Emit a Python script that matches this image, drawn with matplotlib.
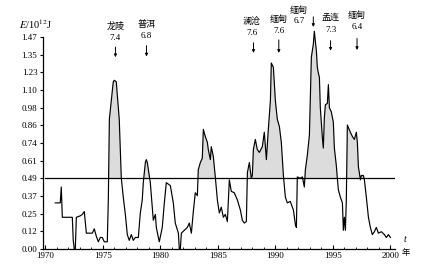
import numpy as np
import matplotlib
matplotlib.use("Agg")
import matplotlib.pyplot as plt

plt.rcParams["font.family"] = ["Liberation Serif", "DejaVu Serif"]
plt.rcParams["mathtext.fontset"] = "stix"

CJK = ["Noto Sans CJK SC", "DejaVu Sans"]

# Strain energy release curve
years = [
    1970.87, 1971.30, 1971.39, 1971.48, 1972.35, 1972.43, 1972.52, 1972.61, 1972.70, 1973.04,
    1973.22, 1973.39, 1973.57, 1973.91, 1974.09, 1974.26, 1974.43, 1974.61, 1974.78, 1974.96,
    1975.13, 1975.39, 1975.48, 1975.57, 1975.74, 1975.91, 1976.00, 1976.17, 1976.26, 1976.43,
    1976.61, 1976.78, 1976.96, 1977.13, 1977.30, 1977.48, 1977.65, 1977.83, 1978.09, 1978.26,
    1978.43, 1978.52, 1978.70, 1978.78, 1978.87, 1979.13, 1979.39, 1979.57, 1979.65, 1979.91,
    1980.17, 1980.35, 1980.52, 1980.87, 1981.13, 1981.30, 1981.57, 1981.65, 1981.74, 1981.83,
    1982.35, 1982.52, 1982.70, 1982.87, 1983.04, 1983.22, 1983.30, 1983.48, 1983.65, 1983.74,
    1983.91, 1984.09, 1984.17, 1984.35, 1984.43, 1984.61, 1984.78, 1984.96, 1985.13, 1985.30,
    1985.48, 1985.65, 1985.83, 1986.00, 1986.17, 1986.43, 1986.70, 1986.96, 1987.13, 1987.30,
    1987.48, 1987.57, 1987.74, 1987.91, 1988.00, 1988.09, 1988.26, 1988.43, 1988.61, 1988.87,
    1989.04, 1989.22, 1989.39, 1989.57, 1989.65, 1989.83, 1990.00, 1990.17, 1990.35, 1990.52,
    1990.70, 1990.87, 1991.04, 1991.30, 1991.57, 1991.74, 1991.83, 1991.91, 1992.17, 1992.35,
    1992.52, 1992.61, 1992.78, 1992.96, 1993.13, 1993.30, 1993.39, 1993.57, 1993.65, 1993.74,
    1993.83, 1993.91, 1994.09, 1994.17, 1994.26, 1994.35, 1994.52, 1994.61, 1994.70, 1994.87,
    1995.04, 1995.13, 1995.30, 1995.39, 1995.48, 1995.65, 1995.83, 1995.91, 1996.00, 1996.09,
    1996.17, 1996.26, 1996.52, 1996.70, 1996.87, 1997.04, 1997.13, 1997.22, 1997.30, 1997.39,
    1997.48, 1997.65, 1997.74, 1997.91, 1998.09, 1998.26, 1998.43, 1998.61, 1998.78, 1998.96,
    1999.22, 1999.48, 1999.65, 1999.83, 2000.00,
]
energy = [
    0.32, 0.32, 0.43, 0.22, 0.22, 0.06, 0.00, 0.00, 0.22, 0.23,
    0.24, 0.26, 0.11, 0.11, 0.11, 0.14, 0.09, 0.05, 0.08, 0.08,
    0.05, 0.05, 0.34, 0.90, 1.03, 1.16, 1.17, 1.16, 1.07, 0.90,
    0.49, 0.36, 0.24, 0.10, 0.06, 0.10, 0.06, 0.08, 0.08, 0.25,
    0.34, 0.46, 0.60, 0.62, 0.60, 0.46, 0.20, 0.24, 0.15, 0.05,
    0.15, 0.32, 0.46, 0.44, 0.32, 0.18, 0.11, 0.00, 0.00, 0.11,
    0.15, 0.18, 0.11, 0.26, 0.39, 0.37, 0.55, 0.60, 0.63, 0.83,
    0.78, 0.74, 0.69, 0.62, 0.71, 0.64, 0.50, 0.34, 0.25, 0.29,
    0.22, 0.24, 0.19, 0.48, 0.40, 0.39, 0.34, 0.27, 0.20, 0.18,
    0.19, 0.53, 0.60, 0.49, 0.51, 0.69, 0.76, 0.69, 0.67, 0.71,
    0.81, 0.62, 0.83, 1.03, 1.29, 1.26, 1.03, 0.90, 0.85, 0.74,
    0.51, 0.36, 0.32, 0.33, 0.27, 0.17, 0.15, 0.50, 0.49, 0.50,
    0.43, 0.55, 0.65, 0.79, 1.33, 1.42, 1.51, 1.37, 1.26, 1.22,
    1.19, 0.98, 0.77, 0.70, 0.91, 1.00, 1.01, 1.14, 0.98, 0.95,
    0.88, 0.70, 0.58, 0.49, 0.41, 0.36, 0.32, 0.13, 0.22, 0.13,
    0.34, 0.86, 0.81, 0.78, 0.76, 0.81, 0.74, 0.57, 0.53, 0.48,
    0.51, 0.51, 0.48, 0.36, 0.22, 0.15, 0.10, 0.12, 0.15, 0.11,
    0.12, 0.10, 0.08, 0.10, 0.08,
]
threshold = 0.49

ytick_labels = ["0.00", "0.12", "0.25", "0.37", "0.49", "0.61", "0.74",
                "0.86", "0.98", "1.10", "1.23", "1.35", "1.47"]
xtick_years = [1970, 1975, 1980, 1985, 1990, 1995, 2000]

# Earthquakes marked above the curve
quake_places = ["龙陵", "普洱", "澜沧", "缅甸", "缅甸", "孟连", "缅甸"]
quake_mags = ["7.4", "6.8", "7.6", "7.6", "6.7", "7.3", "6.4"]
quake_years = [1976.1, 1978.8, 1988.1, 1990.3, 1993.3, 1994.8, 1997.1]

# label layout: (text x offset in years, name y, magnitude y, arrow top, arrow bottom)
layout = [
    (0.0, 1.545, 1.46, 1.40, 1.33),
    (0.0, 1.560, 1.475, 1.41, 1.335),
    (-0.15, 1.570, 1.50, 1.43, 1.36),
    (0.0, 1.590, 1.515, 1.45, 1.36),
    (-1.25, 1.655, 1.578, 1.61, 1.54),
    (0.0, 1.605, 1.522, 1.445, 1.375),
    (0.0, 1.620, 1.537, 1.46, 1.38),
]

fig = plt.figure(figsize=(4.29, 2.69), dpi=100)
ax = fig.add_axes([0.1002, 0.0743, 0.8205, 0.788])

x = np.array(years)
y = np.array(energy)

ax.fill_between(x, y, threshold, where=y > threshold, interpolate=True,
                facecolor="#dcdcdc", edgecolor="none", linewidth=0, zorder=1)
ax.plot(x, y, color="black", linewidth=0.85, clip_on=False, zorder=3)
ax.plot([1970, 2000.3], [threshold, threshold], color="black", linewidth=0.9, zorder=2)

ax.set_xlim(1969.8, 2000.4)
ax.set_ylim(0, 1.47)

ax.spines["top"].set_visible(False)
ax.spines["right"].set_visible(False)
for s in ("left", "bottom"):
    ax.spines[s].set_linewidth(0.9)

ax.set_yticks(np.linspace(0, 1.47, 13))
ax.set_yticklabels(ytick_labels)
ax.set_xticks(xtick_years)
ax.set_xticklabels([str(v) for v in xtick_years])
ax.set_xticks(np.arange(1970, 2001, 1), minor=True)

ax.tick_params(axis="y", direction="out", length=2.5, width=0.8, pad=1.5,
               labelsize=6.5)
ax.tick_params(axis="x", which="major", direction="in", length=3, width=0.8,
               pad=2, labelsize=6.5)
ax.tick_params(axis="x", which="minor", direction="in", length=1.8, width=0.6)

for i in range(len(quake_places)):
    dx, ny, my, a0, a1 = layout[i]
    tx = quake_years[i] + dx
    ax.text(tx, ny, quake_places[i], family=CJK, fontsize=6.5,
            ha="center", va="center", clip_on=False)
    ax.text(tx, my, quake_mags[i], fontsize=6.5, ha="center", va="center",
            clip_on=False)
    ax.annotate("", xy=(quake_years[i], a1), xytext=(quake_years[i], a0),
                arrowprops=dict(arrowstyle="-|>", color="black", lw=0.7,
                                mutation_scale=4, shrinkA=0, shrinkB=0),
                annotation_clip=False)

fig.text(0.045, 0.91, r"$E$/10$^{12}$J", fontsize=7.5, ha="left", va="center")
fig.text(0.943, 0.108, "t", fontsize=7, style="italic", ha="center", va="center")
fig.text(0.945, 0.063, "年", family=CJK, fontsize=6, ha="center", va="center")

fig.savefig("out.png", dpi=100)
